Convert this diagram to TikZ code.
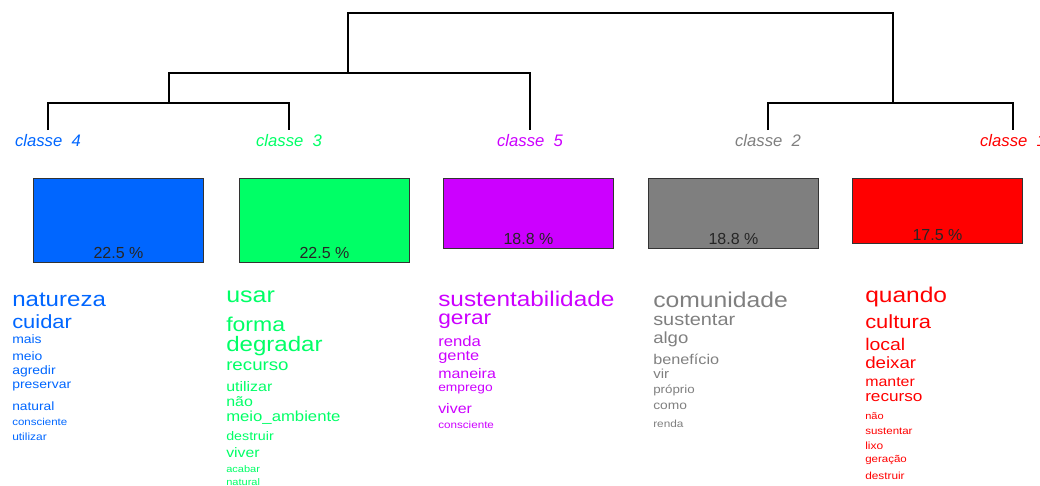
\documentclass[tikz,border=0pt]{standalone}
\usepackage{fontspec}
\setmainfont{Liberation Sans}
\newfontfamily\widesans[FakeStretch=1.15]{Liberation Sans}
\usetikzlibrary{positioning}
\definecolor{clFour}{HTML}{0066FF}
\definecolor{clThree}{HTML}{00FF66}
\definecolor{clFive}{HTML}{CC00FF}
\definecolor{clTwo}{HTML}{7F7F7F}
\definecolor{clOne}{HTML}{FF0000}
\tikzset{
  px/.style={x=0.75pt,y=-0.75pt},
  tree/.style={line width=0.9pt,draw=black},
  clabel/.style={font=\fontsize{12.5}{14}\selectfont\itshape,inner sep=0pt,anchor=north},
  clbox/.style={draw=black!80,line width=0.75pt,minimum width=127.5pt,anchor=north west,inner sep=0pt},
  pct/.style={font=\fontsize{12}{14}\selectfont,text=black!85,inner sep=0pt},
  word/.style={anchor=west,inner sep=0pt}
}

\begin{document}
\begin{tikzpicture}[px]
    \useasboundingbox (0,0) rectangle (1040,486);
    % dendrogram
    \node[clabel,text=clFour] (c4) at (48,134) {classe~~4};
    \node[clabel,text=clThree] (c3) at (289,134) {classe~~3};
    \node[clabel,text=clFive] (c5) at (530,134) {classe~~5};
    \node[clabel,text=clTwo] (c2) at (768,134) {classe~~2};
    \node[clabel,text=clOne] (c1) at (1013,134) {classe~~1};
    \coordinate (m43) at (169,103);
    \coordinate (m435) at (348,73);
    \coordinate (m21) at (893,103);
    \coordinate (root) at (620,13);
    \draw[tree,shorten <=3pt,shorten >=3pt] (c4.north) |- (m43) -| (c3.north);
    \draw[tree,shorten >=3pt] (m43) |- (m435) -| (c5.north);
    \draw[tree] (m435) |- (root) -| (m21);
    \draw[tree,shorten <=3pt,shorten >=3pt] (c2.north) |- (m21) -| (c1.north);
    % class sizes
    \node[clbox,fill=clFour,minimum height=63pt] (b4) at (33,178) {};
    \node[clbox,fill=clThree,minimum height=63pt] (b3) at (239,178) {};
    \node[clbox,fill=clFive,minimum height=52.5pt] (b5) at (443,178) {};
    \node[clbox,fill=clTwo,minimum height=52.5pt] (b2) at (648,178) {};
    \node[clbox,fill=clOne,minimum height=48.75pt] (b1) at (852,178) {};
    \node[pct,above=3pt of b4.south] (p4) {22.5 \%};
    \node[pct,above=3pt of b3.south] (p3) {22.5 \%};
    \node[pct,above=3pt of b5.south] (p5) {18.8 \%};
    \node[pct,above=3pt of b2.south] (p2) {18.8 \%};
    \node[pct,above=2.5pt of b1.south] (p1) {17.5 \%};
    % words
    \foreach \w/\s/\y [count=\i] in {natureza/15.7/300,cuidar/14.3/322,mais/9.1/339,meio/9.1/356,
        agredir/9.1/371,preservar/9.1/386,natural/9/406,consciente/7.5/422,utilizar/7.8/437}
      \node[word,text=clFour,font=\widesans\fontsize{\s}{\s}\selectfont] (w4-\i) at (12,\y) {\w};
    \foreach \w/\s/\y [count=\i] in {usar/16.3/297,forma/15/324,degradar/15.7/346,recurso/12.2/366,
        utilizar/10.4/387,não/10.4/402,meio\_ambiente/10.9/418,destruir/9.3/436,viver/10.3/453,
        acabar/7.2/469,natural/7.2/482}
      \node[word,text=clThree,font=\widesans\fontsize{\s}{\s}\selectfont] (w3-\i) at (226,\y) {\w};
    \foreach \w/\s/\y [count=\i] in {sustentabilidade/15.9/299,gerar/14.8/321,renda/10.9/341,
        gente/10.7/357,maneira/10.4/374,emprego/9/390,viver/10.4/409,consciente/7.6/425}
      \node[word,text=clFive,font=\widesans\fontsize{\s}{\s}\selectfont] (w5-\i) at (438,\y) {\w};
    \foreach \w/\s/\y [count=\i] in {comunidade/16.1/300,sustentar/13/320,algo/12.1/339,
        benefício/10.6/359,vir/9.8/374,próprio/8.7/390,como/9/406,renda/7.7/424}
      \node[word,text=clTwo,font=\widesans\fontsize{\s}{\s}\selectfont] (w2-\i) at (653,\y) {\w};
    \foreach \w/\s/\y [count=\i] in {quando/16/297,cultura/14.3/322,local/12.7/344,deixar/12.2/363,
        manter/10.4/382,recurso/11.2/398,não/7.2/416,sustentar/7.5/431,lixo/7.8/446,
        geração/7.5/460,destruir/7.7/476}
      \node[word,text=clOne,font=\widesans\fontsize{\s}{\s}\selectfont] (w1-\i) at (865,\y) {\w};
\end{tikzpicture}
\end{document}
